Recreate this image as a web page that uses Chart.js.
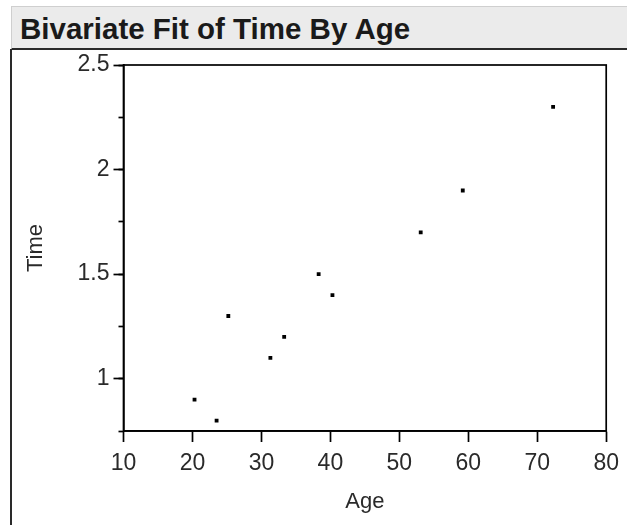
<!DOCTYPE html>
<html>
<head>
<meta charset="utf-8">
<script src="https://cdn.jsdelivr.net/npm/chart.js@4"></script>
<style>
  html, body { margin: 0; padding: 0; background: #fff; }
  body { width: 627px; height: 525px; position: relative; overflow: hidden; font-family: "Liberation Sans", Arial, sans-serif; }
  #titleBar {
    position: absolute; left: 11px; top: 6px; width: 640px; height: 41px;
    background: #ebebeb; border-top: 1px solid #cfcfcf; border-left: 1px solid #cfcfcf;
    border-bottom: 2px solid #2a2a2a;
  }
  #titleText {
    position: absolute; left: 8px; top: 5px; white-space: nowrap;
    font-weight: bold; font-size: 29.5px; color: #1a1a1a;
  }
  #leftRule { position: absolute; left: 10px; top: 49px; width: 2px; height: 480px; background: #2a2a2a; }
  #chart { position: absolute; left: 0; top: 0; }
</style>
</head>
<body>
<div id="titleBar"><div id="titleText">Bivariate Fit of Time By Age</div></div>
<div id="leftRule"></div>
<canvas id="chart" width="627" height="525"></canvas>
<script>
const ages  = [20.3, 23.5, 25.2, 31.3, 33.3, 38.3, 40.3, 53.1, 59.2, 72.3];
const times = [0.9, 0.8, 1.3, 1.1, 1.2, 1.5, 1.4, 1.7, 1.9, 2.3];
const xTicks = [10, 20, 30, 40, 50, 60, 70, 80];
const yTicks = [1, 1.5, 2, 2.5];

const points = ages.map((a, i) => ({ x: a, y: times[i] }));

/* ── frame round the plot ── */
const frame = {
  id: 'frame',
  afterDraw(chart) {
    const { ctx, chartArea: a } = chart;
    ctx.save();
    ctx.strokeStyle = '#000';
    ctx.lineWidth = 1.7;
    ctx.strokeRect(a.left, a.top, a.right - a.left, a.bottom - a.top);
    ctx.restore();
  }
};

const tickFont = { family: '"Liberation Sans", Arial, sans-serif', size: 23 };
const titleFont = { family: '"Liberation Sans", Arial, sans-serif', size: 22 };

new Chart(document.getElementById('chart'), {
  type: 'scatter',
  data: {
    datasets: [{
      data: points,
      pointStyle: 'rect',
      pointRadius: 2.7,
      pointBorderWidth: 0,
      backgroundColor: '#000',
      borderColor: '#000',
    }]
  },
  options: {
    responsive: false,
    animation: false,
    layout: { padding: { left: 0, right: 19, top: 65, bottom: 0 } },
    plugins: { legend: { display: false }, tooltip: { enabled: false } },
    scales: {
      x: {
        type: 'linear',
        min: 10, max: 80,
        afterBuildTicks: s => { s.ticks = xTicks.map(v => ({ value: v })); },
        afterFit: s => { s.height = 94; },
        grid: { drawOnChartArea: false, tickLength: 11, tickColor: '#000', tickWidth: 1.7 },
        border: { color: '#000', width: 1.7 },
        ticks: { color: '#2a2a2a', font: tickFont, padding: 8, maxRotation: 0, autoSkip: false },
        title: { display: true, text: 'Age', color: '#2a2a2a', font: titleFont, padding: { bottom: 10 } }
      },
      y: {
        type: 'linear',
        weight: 1,
        min: 0.75, max: 2.5,
        afterBuildTicks: s => { s.ticks = yTicks.map(v => ({ value: v })); },
        afterFit: s => { s.width = 123.5; },
        grid: { drawOnChartArea: false, tickLength: 10, tickColor: '#000', tickWidth: 1.7 },
        border: { color: '#000', width: 1.7 },
        ticks: { color: '#2a2a2a', font: tickFont, padding: 4, autoSkip: false, callback: v => String(v) },
        title: { display: true, text: 'Time', color: '#2a2a2a', font: titleFont, padding: { top: 23 } }
      },
      yMinor: {
        type: 'linear',
        position: 'left',
        weight: 0,
        min: 0.75, max: 2.5,
        ticks: { display: false, stepSize: 0.25 },
        afterFit: s => { s.width = 0; },
        grid: { drawOnChartArea: false, tickLength: 5, tickColor: '#000', tickWidth: 1.7 },
        border: { display: false }
      }
    }
  },
  plugins: [frame]
});
</script>
</body>
</html>
